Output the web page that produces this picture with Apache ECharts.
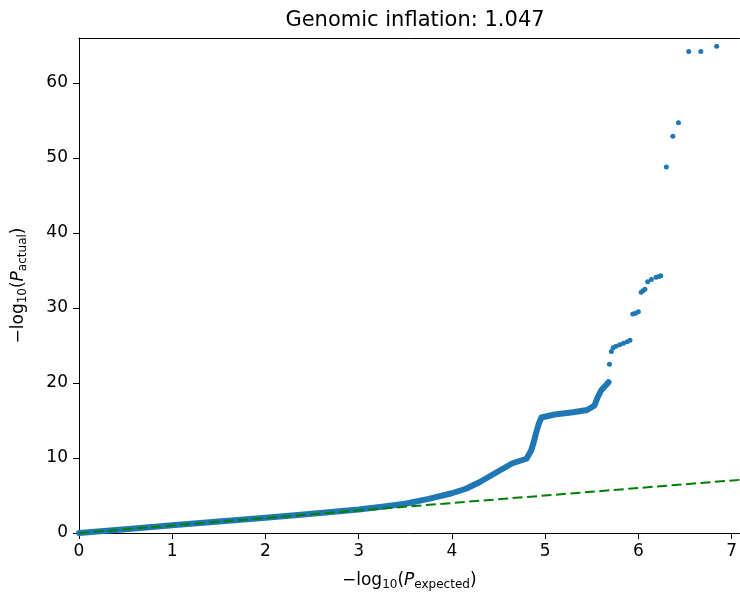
<!DOCTYPE html>
<html>
<head>
<meta charset="utf-8">
<script src="https://cdn.jsdelivr.net/npm/echarts@6/dist/echarts.min.js"></script>
<style>
html,body{margin:0;padding:0;background:#fff;}
#chart{width:740px;height:603px;}
</style>
</head>
<body>
<div id="chart"></div>
<script>
// Dense part of the QQ curve (expected, actual -log10 p)
const denseExpected = [0, 0.5, 1, 1.5, 2, 2.5, 3, 3.25, 3.5, 3.75, 4, 4.15, 4.3, 4.48, 4.65, 4.8, 4.85, 4.88, 4.9, 4.93, 4.96, 5.1, 5.3, 5.45, 5.53, 5.56, 5.6, 5.68];
const denseActual   = [0, 0.5, 1.02, 1.53, 2.04, 2.56, 3.12, 3.5, 3.9, 4.55, 5.3, 5.9, 6.8, 8.1, 9.3, 9.9, 11.0, 12.2, 13.2, 14.5, 15.4, 15.8, 16.1, 16.4, 17.0, 18.0, 19.0, 20.1];
// Sparse tail points
const tailExpected = [5.69, 5.71, 5.73, 5.76, 5.8, 5.84, 5.88, 5.91, 5.94, 5.97, 6.0, 6.03, 6.05, 6.07, 6.1, 6.14, 6.19, 6.22, 6.24, 6.3, 6.37, 6.43, 6.54, 6.67, 6.84];
const tailActual   = [22.5, 24.2, 24.7, 24.9, 25.1, 25.3, 25.5, 25.7, 29.2, 29.3, 29.5, 32.1, 32.3, 32.5, 33.5, 33.8, 34.1, 34.2, 34.3, 48.8, 52.9, 54.7, 64.2, 64.2, 64.9];
// Reference line y = x
const refLineX = [0, 7.1];
const refLineY = [0, 7.1];
// Ticks
const xTicks = [0, 1, 2, 3, 4, 5, 6, 7];
const yTicks = [0, 10, 20, 30, 40, 50, 60];

const blue = '#1f77b4';
const dense = denseExpected.map((x, i) => [x, denseActual[i]]);
const tail = tailExpected.map((x, i) => [x, tailActual[i]]);
const ref = refLineX.map((x, i) => [x, refLineY[i]]);

const FS = 17;
const richLabel = {
  b: {fontSize: FS, fontFamily: 'DejaVu Sans', color: '#000', lineHeight: 21},
  i: {fontSize: FS, fontFamily: 'DejaVu Sans', fontStyle: 'italic', color: '#000', lineHeight: 21},
  s: {fontSize: 12, fontFamily: 'DejaVu Sans', color: '#000', lineHeight: 12, verticalAlign: 'top', padding: [9, 0, 0, 0]}
};

const chart = echarts.init(document.getElementById('chart'), null, {renderer: 'canvas'});
chart.setOption({
  animation: false,
  backgroundColor: '#fff',
  title: {
    text: 'Genomic inflation: 1.047',
    left: 410, top: 5, textAlign: 'center',
    textStyle: {fontFamily: 'DejaVu Sans', fontSize: 21, fontWeight: 'normal', color: '#000'}
  },
  grid: {left: 79, right: 0, top: 38, bottom: 70, containLabel: false},
  xAxis: [{
    type: 'value', min: 0, max: 7.085, position: 'bottom',
    name: '{b|−log}{s|10}{b|(}{i|P}{s|expected}{b|)}',
    nameLocation: 'middle', nameGap: 37,
    nameTextStyle: {rich: richLabel},
    axisLine: {show: true, lineStyle: {color: '#000', width: 1}},
    axisTick: {show: true, length: 6, lineStyle: {color: '#000'}, customValues: xTicks},
    axisLabel: {color: '#000', fontFamily: 'DejaVu Sans', fontSize: FS, margin: 10, customValues: xTicks},
    splitLine: {show: false}
  }, {
    type: 'value', min: 0, max: 7.085, position: 'top',
    axisLine: {show: true, onZero: false, lineStyle: {color: '#000', width: 1}},
    axisTick: {show: false}, axisLabel: {show: false}, splitLine: {show: false}
  }],
  yAxis: [{
    type: 'value', min: 0, max: 66,
    name: '{b|−log}{s|10}{b|(}{i|P}{s|actual}{b|)}',
    nameLocation: 'middle', nameGap: 50, nameRotate: 90,
    nameTextStyle: {rich: richLabel},
    axisLine: {show: true, lineStyle: {color: '#000', width: 1}},
    axisTick: {show: true, length: 6, lineStyle: {color: '#000'}, customValues: yTicks},
    axisLabel: {color: '#000', fontFamily: 'DejaVu Sans', fontSize: FS, margin: 11, customValues: yTicks},
    splitLine: {show: false}
  }],
  series: [{
    type: 'line', data: dense, showSymbol: false, symbol: 'none',
    lineStyle: {color: blue, width: 6, cap: 'round', join: 'round'},
    z: 2, clip: true
  }, {
    type: 'scatter', data: tail, symbolSize: 5,
    itemStyle: {color: blue, opacity: 1}, z: 3
  }, {
    type: 'line', data: ref, showSymbol: false, symbol: 'none',
    lineStyle: {color: '#008000', width: 2, type: [10, 4.5]},
    z: 4, clip: true
  }]
});
</script>
</body>
</html>
